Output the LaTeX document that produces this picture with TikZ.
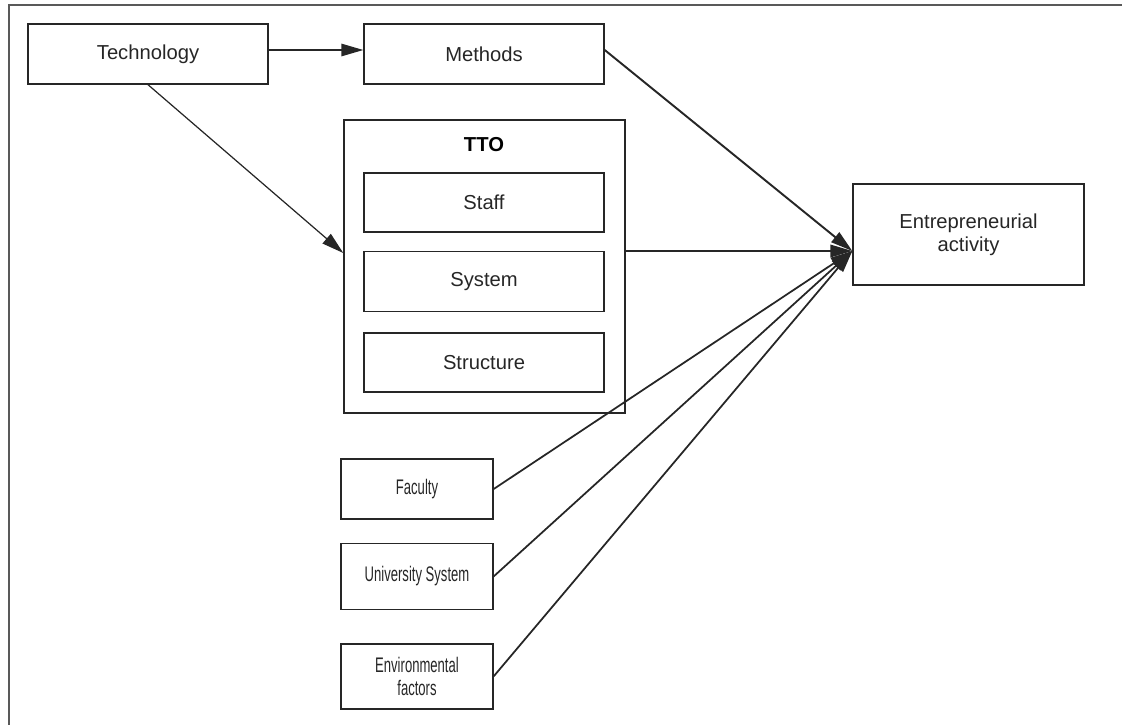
\documentclass[tikz,border=0pt]{standalone}
\usepackage{fontspec}
\setmainfont{Liberation Sans}
\newfontfamily\narrowsans[FakeStretch=0.62]{Liberation Sans}
\usetikzlibrary{arrows.meta, positioning}
\tikzset{
    block/.style={rectangle, draw=black!85, line width=0.8pt, align=center, minimum width=4.8cm, minimum height=1.2cm, text=black!85, font=\fontsize{11.5}{13}\selectfont},
    smallblock/.style={block, minimum width=3.04cm, font=\narrowsans\fontsize{12}{13}\selectfont},
    group/.style={rectangle, draw=black!85, line width=0.8pt, minimum width=5.62cm, minimum height=5.86cm},
    arrow/.style={draw=black!85, line width=0.8pt, -{Triangle[length=0.44cm, width=0.25cm]}}
}

\begin{document}
\begin{tikzpicture}[node distance=0.4cm]
        \useasboundingbox (0,0) rectangle (22.44,-14.5);
        \draw[black!65, line width=1.2pt] (0.18,-14.6) -- (0.18,-0.1) -- (22.6,-0.1);

        \node (Tech) [block] at (2.96,-1.08) {Technology};
        \node (Methods) [block] at (9.68,-1.08) {Methods};

        \node (TTO) [group] at (9.69,-5.33) {};
        \node (TTO_label) at (9.68,-2.9) {\fontsize{11.5}{13}\selectfont\textbf{TTO}};
        \node (Staff) [block, minimum height=1.18cm] at (9.68,-4.05) {Staff};
        \node (System) [block, below=0.36cm of Staff] {System};
        \node (Structure) [block, minimum height=1.18cm, below=0.4cm of System] {Structure};

        \node (Entre) [block, minimum width=4.62cm, minimum height=2.02cm] at (19.37,-4.69) {Entrepreneurial\\activity};

        \node (Faculty) [smallblock] at (8.34,-9.78) {Faculty};
        \node (UniSys) [smallblock, minimum height=1.32cm, below=0.46cm of Faculty] {University System};
        \node (Env) [smallblock, minimum height=1.3cm, below=0.66cm of UniSys] {Environmental\\factors};

        \coordinate (Hub) at ([yshift=-0.33cm]Entre.west);

        % Technology
        \draw[arrow] ([yshift=0.08cm]Tech.east) -- ([yshift=0.08cm]Methods.west);
        \draw[arrow, line width=0.7pt] (Tech.south) -- ([yshift=0.27cm]TTO.west);

        % Into entrepreneurial activity
        \draw[arrow, line width=1.1pt] ([yshift=0.08cm]Methods.east) -- (Hub);
        \draw[arrow, line width=1.1pt] (TTO.east |- Hub) -- (Hub);
        \draw[arrow, line width=1pt] (Faculty.east) -- (Hub);
        \draw[arrow, line width=1pt] (UniSys.east) -- (Hub);
        \draw[arrow, line width=1pt] (Env.east) -- (Hub);

    \end{tikzpicture}
\end{document}
